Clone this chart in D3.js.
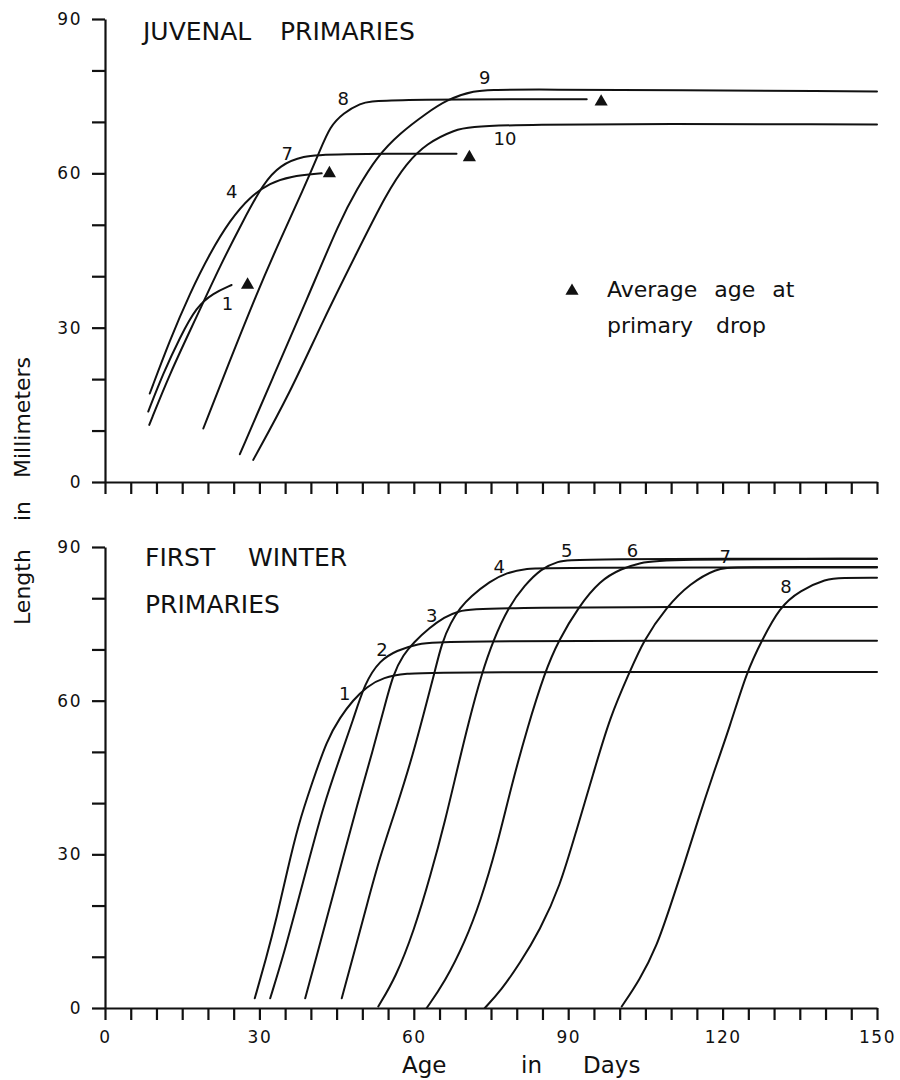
<!DOCTYPE html>
<html>
<head>
<meta charset="utf-8">
<script src="https://cdn.jsdelivr.net/npm/d3@7"></script>
<style>
  body { margin: 0; background: #fff; }
  text { font-family: "DejaVu Sans", sans-serif; fill: #111; }
</style>
</head>
<body>
<svg id="chart"></svg>
<script>
// tick values / labels
var xTicks = d3.range(0, 151, 5);
var xTickLabels = [0, 30, 60, 90, 120, 150];
var yTicks = d3.range(0, 91, 10);
var yTickLabels = [0, 30, 60, 90];

// juvenal primaries, [age in days, length mm]
var juv1 = [[8.4,13.7],[11.3,21.1],[14.6,28.2],[17.8,34.1],[21.0,36.7],[24.6,38.3]];
var juv4 = [[8.7,17.2],[12.6,27.6],[16.5,36.7],[20.4,44.5],[24.3,50.9],[28.2,55.5],[32.1,58.1],[35.9,59.4],[42.1,60.0]];
var juv7 = [[8.6,11.1],[12.6,21.1],[17.8,32.1],[22.3,41.9],[26.9,50.9],[30.8,58.1],[34.0,61.6],[38.5,63.4],[43.7,63.8],[68.3,63.8]];
var juv8 = [[19.1,10.4],[24.3,23.7],[29.5,36.7],[34.0,47.0],[38.5,56.8],[41.8,64.5],[43.7,69.1],[46.3,71.7],[49.5,73.6],[52.8,74.4],[93.6,74.4]];
var juv9 = [[26.2,5.4],[32.7,20.5],[39.2,35.4],[45.7,50.9],[48.9,56.8],[52.8,63.2],[57.3,67.8],[62.5,71.7],[66.4,74.3],[71.6,76.1],[76.7,76.4],[150,75.9]];
var juv10 = [[28.8,4.3],[35.9,17.2],[42.4,31.5],[48.9,44.5],[54.7,56.1],[58.6,62.0],[62.5,65.8],[67.7,68.4],[72.9,69.7],[150,69.5]];
var juvDrop = [[27.7,38.3],[43.6,60.0],[70.8,63.1],[96.4,73.9]];
var juvLabels = [["1",23.8,34.7],["4",24.6,56.4],["7",35.4,63.9],["8",46.3,74.6],["9",73.8,78.7],["10",77.7,66.8]];

// first winter primaries
var fw1 = [[29.1,1.9],[31.4,10],[33.4,17.8],[35.3,26.3],[37.6,36],[40.2,43.8],[43.1,52.3],[45.7,56.8],[48.2,60.1],[50.8,62.7],[54.1,64.6],[58.6,65.3],[63.8,65.6],[150,65.6]];
var fw2 = [[32.1,1.9],[34.6,10],[37.2,19.8],[39.8,29.5],[42.4,39.3],[45.5,48.5],[48.2,56.2],[50.5,63.5],[53.4,67.9],[56.7,69.8],[60.6,71.1],[65.7,71.7],[150,71.7]];
var fw3 = [[38.9,1.9],[41.1,10],[43.7,19.8],[46.3,29.5],[48.9,39.3],[52.1,50.5],[54.1,58],[56.0,65.3],[58,69],[59.9,71.3],[63.1,74.3],[66,76.3],[68.3,77.4],[72.9,78.3],[150,78.3]];
var fw4 = [[46.0,1.9],[48.2,10],[50.8,19.8],[53.4,29.5],[56.7,39.3],[59.9,49.7],[62.2,58.5],[64,65.3],[65.4,71.2],[67.2,75.3],[69,78.1],[71,80.3],[74.8,83.3],[78,85],[82,85.8],[86,86],[150,86]];
var fw5 = [[53.1,0.3],[56.5,6],[60,15],[63.3,26],[66.2,37],[68.3,46],[70.7,56],[73.2,65.3],[75.4,71.7],[78.4,78.3],[81.5,82.5],[84.8,85.8],[88,87.2],[91,87.7],[150,87.7]];
var fw6 = [[62.5,0],[66,5],[70,13],[73,21],[76,31],[79,43.5],[82,54.5],[85.5,65.7],[88.1,71.7],[92,78.3],[96.2,83.5],[100.4,85.8],[104,86.9],[108,87.6],[150,87.7]];
var fw7 = [[73.8,0],[77,3.5],[80.6,8.7],[84.5,15.2],[88.4,23.7],[91.6,34.7],[94.9,45.8],[98.1,56.8],[102,65.7],[104.6,71.7],[109.1,78.3],[113.7,82.9],[118.8,85.8],[122,86.1],[150,86.1]];
var fw8 = [[100.4,0.3],[103.9,5.5],[107.2,12],[109.8,19.8],[112.4,27.6],[115,36],[118.2,45.8],[121.4,54.9],[124.7,65.7],[127.6,71.7],[131.1,78.3],[135,81.5],[140.2,83.8],[143,84],[150,84]];
var fwLabels = [["1",46.6,61.3],["2",53.8,69.9],["3",63.5,76.7],["4",76.6,86.1],["5",89.7,89.4],["6",102.5,89.4],["7",120.5,88.1],["8",132.3,82.3]];

var width = 900;
var height = 1080;
var ink = "#111";

var svg = d3.select("#chart")
            .attr("width", width)
            .attr("height", height);

svg.append("rect")
   .attr("width", width)
   .attr("height", height)
   .attr("fill", "#fff");

var x = d3.scaleLinear().domain([0, 150]).range([105, 877]);
var yTop = d3.scaleLinear().domain([0, 90]).range([482, 19]);
var yBot = d3.scaleLinear().domain([0, 90]).range([1008, 547]);

var drawPanel = function(y, series, labels, showXLabels){
  var g = svg.append("g");

  var line = d3.line()
               .x(function(d){ return x(d[0]); })
               .y(function(d){ return y(d[1]); })
               .curve(d3.curveBasis);

  g.selectAll("path.curve")
   .data(series)
   .enter()
   .append("path")
   .attr("class", "curve")
   .attr("d", line)
   .attr("fill", "none")
   .attr("stroke", ink)
   .attr("stroke-width", 2)
   .attr("stroke-linecap", "round");

  g.selectAll("text.num")
   .data(labels)
   .enter()
   .append("text")
   .attr("class", "num")
   .text(function(d){ return d[0]; })
   .attr("x", function(d){ return x(d[1]); })
   .attr("y", function(d){ return y(d[2]); })
   .attr("dy", "0.36em")
   .attr("text-anchor", "middle")
   .attr("font-size", "18px");

  var yAxis = d3.axisLeft(y)
                .tickValues(yTicks)
                .tickSize(13)
                .tickSizeOuter(0)
                .tickPadding(10)
                .tickFormat(function(d){ return yTickLabels.indexOf(d) >= 0 ? d : ""; });

  var xAxis = d3.axisBottom(x)
                .tickValues(xTicks)
                .tickSize(12)
                .tickSizeOuter(0)
                .tickPadding(11)
                .tickFormat(function(d){ return showXLabels && xTickLabels.indexOf(d) >= 0 ? d : ""; });

  var ax = g.append("g")
            .attr("transform", "translate(" + x(0) + ",0)")
            .call(yAxis);
  var bx = g.append("g")
            .attr("transform", "translate(0," + y(0) + ")")
            .call(xAxis);

  [ax, bx].forEach(function(a){
    a.attr("font-family", "DejaVu Sans")
     .attr("font-size", 17);
    a.selectAll("path, line")
     .attr("stroke", ink)
     .attr("stroke-width", 2.2);
    a.selectAll("text")
     .attr("fill", ink)
     .attr("font-size", "17px")
     .attr("letter-spacing", "1.5px");
  });

  return g;
}

var topPanel = drawPanel(yTop, [juv1, juv4, juv7, juv8, juv9, juv10], juvLabels, false);
var bottomPanel = drawPanel(yBot, [fw1, fw2, fw3, fw4, fw5, fw6, fw7, fw8], fwLabels, true);

var tri = d3.symbol().type(d3.symbolTriangle).size(75);

topPanel.selectAll("path.drop")
   .data(juvDrop)
   .enter()
   .append("path")
   .attr("class", "drop")
   .attr("d", tri)
   .attr("transform", function(d){ return "translate(" + x(d[0]) + "," + yTop(d[1]) + ")"; })
   .attr("fill", ink);

// legend
svg.append("path")
   .attr("d", tri)
   .attr("transform", "translate(572,291)")
   .attr("fill", ink);

svg.append("text").text("Average age at")
   .attr("x", 607).attr("y", 297)
   .attr("font-size", "22px").attr("word-spacing", "10px");
svg.append("text").text("primary drop")
   .attr("x", 607).attr("y", 333)
   .attr("font-size", "22px").attr("word-spacing", "16px");

// panel titles
var titles = [["JUVENAL", 143, 40], ["PRIMARIES", 280, 40],
              ["FIRST", 145, 566], ["WINTER", 248, 566], ["PRIMARIES", 145, 613]];
svg.selectAll("text.title")
   .data(titles)
   .enter()
   .append("text")
   .attr("class", "title")
   .text(function(d){ return d[0]; })
   .attr("x", function(d){ return d[1]; })
   .attr("y", function(d){ return d[2]; })
   .attr("font-size", "25px");

// axis titles
var xTitle = [["Age", 402], ["in", 521], ["Days", 583]];
svg.selectAll("text.xt")
   .data(xTitle)
   .enter()
   .append("text")
   .attr("class", "xt")
   .text(function(d){ return d[0]; })
   .attr("x", function(d){ return d[1]; })
   .attr("y", 1073)
   .attr("font-size", "23px");

var yTitle = [["Length", 625], ["in", 521], ["Millimeters", 478]];
svg.selectAll("text.yt")
   .data(yTitle)
   .enter()
   .append("text")
   .attr("class", "yt")
   .text(function(d){ return d[0]; })
   .attr("transform", function(d){ return "translate(30," + d[1] + ") rotate(-90)"; })
   .attr("font-size", "22px");
</script>
</body>
</html>
